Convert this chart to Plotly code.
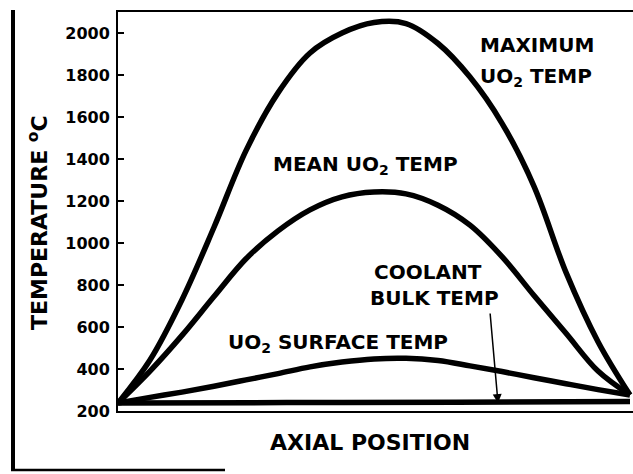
import plotly.graph_objects as go

# ---- data ----
pos = [0.0, 0.0625, 0.125, 0.1875, 0.25, 0.3125, 0.375, 0.4375, 0.5,
       0.5625, 0.625, 0.6875, 0.75, 0.8125, 0.875, 0.9375, 1.0]
max_t = [238, 443, 730, 1075, 1440, 1715, 1905, 2000, 2050,
         2045, 1950, 1790, 1570, 1270, 860, 530, 276]
mean_t = [238, 390, 560, 745, 925, 1058, 1158, 1220, 1243,
          1234, 1180, 1085, 935, 750, 570, 390, 276]
surf_t = [238, 265, 290, 318, 348, 378, 410, 433, 448,
          451, 440, 415, 388, 358, 330, 302, 276]
cool_x = [0.0, 0.33, 0.66, 1.0]
cool_t = [238, 240, 242, 245]

y_ticks = [200, 400, 600, 800, 1000, 1200, 1400, 1600, 1800, 2000]

# ---- layout helpers (pixel -> paper) ----
L, R, T, B = 118, 633, 12, 411
W, H = 633, 474
def pxx(px):
    return (px - L) / (R - L)
def pxy(py):
    return (B - py) / (B - T)

FONT = "DejaVu Sans"
fig = go.Figure()
for xs, ys, nm in [(pos, max_t, "Maximum UO2 temp"), (pos, mean_t, "Mean UO2 temp"),
                   (pos, surf_t, "UO2 surface temp"), (cool_x, cool_t, "Coolant bulk temp")]:
    fig.add_trace(go.Scatter(x=xs, y=ys, mode="lines", name=nm,
                             line=dict(color="black", width=5.5, shape="spline", smoothing=1.0),
                             showlegend=False, hoverinfo="skip"))

lab_font = dict(family=FONT, size=20, color="black", weight="bold")
labels = [
    ("MAXIMUM", 537, 45),
    ("UO<sub>2</sub> TEMP", 536, 77),
    ("MEAN UO<sub>2</sub> TEMP", 365, 165),
    ("COOLANT", 428, 272),
    ("BULK TEMP", 434, 298),
    ("UO<sub>2</sub> SURFACE TEMP", 338, 343),
]
ann = []
for txt, cx, cy in labels:
    ann.append(dict(text=txt, x=pxx(cx), y=pxy(cy), xref="paper", yref="paper",
                    showarrow=False, xanchor="center", yanchor="middle", font=lab_font))
# axis titles
ann.append(dict(text="AXIAL POSITION", x=pxx(370), y=pxy(442), xref="paper", yref="paper",
                showarrow=False, xanchor="center", yanchor="middle",
                font=dict(family=FONT, size=22, color="black", weight="bold")))
ann.append(dict(text="TEMPERATURE <sup>o</sup>C", x=pxx(38), y=pxy(223), xref="paper", yref="paper",
                showarrow=False, xanchor="center", yanchor="middle", textangle=-90,
                font=dict(family=FONT, size=22, color="black", weight="bold")))
# arrow to coolant line
ann.append(dict(text="", x=pxx(498), y=pxy(403), xref="paper", yref="paper",
                ax=-8, ay=-91, showarrow=True, arrowhead=2, arrowsize=1.2, arrowwidth=1.5,
                arrowcolor="black"))

shapes = [
    dict(type="line", xref="paper", yref="paper", x0=pxx(13), x1=pxx(13), y0=pxy(10), y1=pxy(471),
         line=dict(color="black", width=4)),
    dict(type="line", xref="paper", yref="paper", x0=pxx(11), x1=pxx(225), y0=pxy(470), y1=pxy(470),
         line=dict(color="black", width=2.5)),
]

fig.update_layout(
    width=W, height=H,
    margin=dict(l=L, r=W - R, t=T, b=H - B, pad=0),
    paper_bgcolor="white", plot_bgcolor="white",
    annotations=ann, shapes=shapes,
    xaxis=dict(range=[0, (R - L) / 512], showline=True, mirror=True, linecolor="black", linewidth=2,
               showticklabels=False, ticks="", showgrid=False, zeroline=False),
    yaxis=dict(range=[200, 2100], tickvals=y_ticks, ticks="inside", ticklen=6, tickwidth=1.5,
               tickcolor="black", showline=True, linecolor="black", linewidth=2,
               showgrid=False, zeroline=False, ticklabelstandoff=3,
               tickfont=dict(family=FONT, size=16, color="black", weight="bold")),
)

fig.write_html("out.html", config={"displayModeBar": False},
               post_script="document.body.style.margin='0px';")
